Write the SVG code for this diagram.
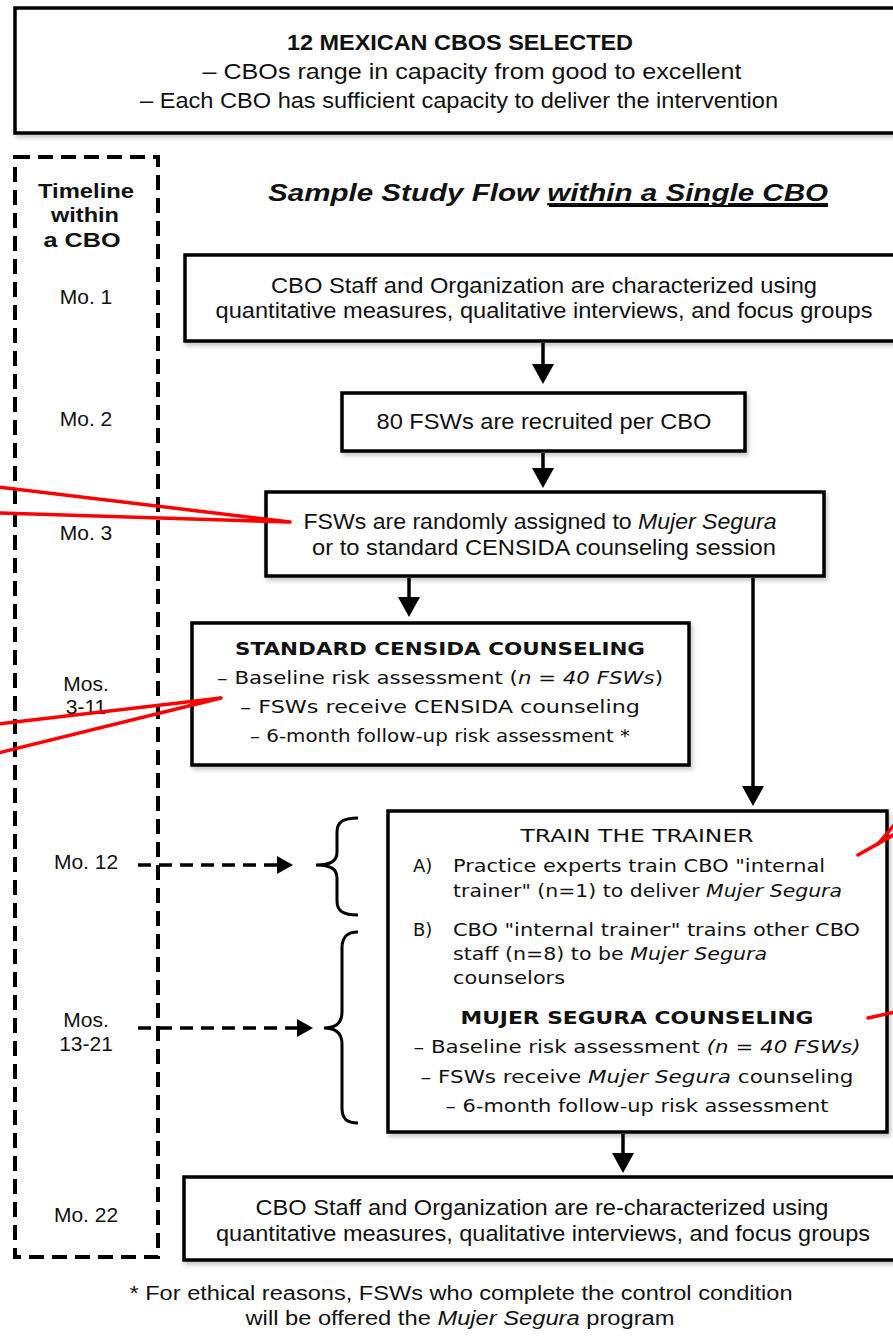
<svg xmlns="http://www.w3.org/2000/svg" width="893" height="1340" viewBox="0 0 893 1340">
<style>
.box{fill:#fff;stroke:#000;stroke-width:3.5;filter:url(#sh)}
.n{font-family:"Liberation Sans",Arial,sans-serif;fill:#111}
.w{font-family:"DejaVu Sans",Verdana,sans-serif;fill:#111}
.b{font-weight:bold}
.i{font-style:italic}
.c{text-anchor:middle}
.mo{font-family:"Liberation Sans",Arial,sans-serif;fill:#111;font-size:21px;text-anchor:middle}
.conn{stroke:#000;stroke-width:3.5;fill:none}
.dash{stroke:#000;stroke-width:3.5;fill:none;stroke-dasharray:13 8}
.brace{stroke:#000;stroke-width:3;fill:none}
.red{stroke:#ff0000;stroke-width:3.5;fill:none;stroke-linecap:round;stroke-linejoin:round}
</style>
<defs>
<filter id="sh" x="-5%" y="-5%" width="115%" height="125%">
<feDropShadow dx="2" dy="3" stdDeviation="2" flood-color="#000" flood-opacity="0.22"/>
</filter>
<marker id="ah" viewBox="0 0 20 22" refX="2" refY="11" markerWidth="20" markerHeight="22" markerUnits="userSpaceOnUse" orient="auto">
<path d="M0,0 L20,11 L0,22 z" fill="#000"/>
</marker>
<marker id="ahd" viewBox="0 0 16 18" refX="1" refY="9" markerWidth="16" markerHeight="18" markerUnits="userSpaceOnUse" orient="auto">
<path d="M0,0 L16,9 L0,18 z" fill="#000"/>
</marker>
</defs>
<rect width="893" height="1340" fill="#fff"/>

<g id="cbos">
<rect class="box" x="15" y="8" width="900" height="125"/>
<text class="n b c" x="460" y="50" font-size="22" textLength="346" lengthAdjust="spacingAndGlyphs">12 MEXICAN CBOS SELECTED</text>
<text class="n c" x="472" y="79" font-size="22" textLength="539" lengthAdjust="spacingAndGlyphs">– CBOs range in capacity from good to excellent</text>
<text class="n c" x="459" y="108" font-size="22" textLength="638" lengthAdjust="spacingAndGlyphs">– Each CBO has sufficient capacity to deliver the intervention</text>
</g>

<g id="timeline">
<rect x="15" y="157" width="143" height="1100" fill="none" stroke="#000" stroke-width="4" stroke-dasharray="15 8"/>
<text class="n b c" x="86" y="198" font-size="20" textLength="96" lengthAdjust="spacingAndGlyphs">Timeline</text>
<text class="n b c" x="85" y="222" font-size="20" textLength="68" lengthAdjust="spacingAndGlyphs">within</text>
<text class="n b c" x="82" y="247" font-size="20" textLength="77" lengthAdjust="spacingAndGlyphs">a CBO</text>
<text class="mo" x="86" y="304">Mo. 1</text>
<text class="mo" x="86" y="426">Mo. 2</text>
<text class="mo" x="86" y="540">Mo. 3</text>
<text class="mo" x="86" y="691">Mos.</text>
<text class="mo" x="86" y="714">3-11</text>
<text class="mo" x="86" y="869">Mo. 12</text>
<text class="mo" x="86" y="1027">Mos.</text>
<text class="mo" x="86" y="1051">13-21</text>
<text class="mo" x="86" y="1222">Mo. 22</text>
</g>

<g id="title">
<text class="n b i c" x="548" y="201" font-size="24" textLength="560" lengthAdjust="spacingAndGlyphs">Sample Study Flow <tspan text-decoration="underline">within a Single CBO</tspan></text>
<line x1="549" y1="206" x2="828" y2="206" stroke="#000" stroke-width="2"/>
</g>

<g id="characterize">
<rect class="box" x="185" y="255" width="720" height="86"/>
<text class="n c" x="544" y="293" font-size="22" textLength="546" lengthAdjust="spacingAndGlyphs">CBO Staff and Organization are characterized using</text>
<text class="n c" x="544" y="318" font-size="22" textLength="657" lengthAdjust="spacingAndGlyphs">quantitative measures, qualitative interviews, and focus groups</text>
</g>

<g id="recruit">
<rect class="box" x="342" y="393" width="403" height="58"/>
<text class="n c" x="544" y="429" font-size="22" textLength="335" lengthAdjust="spacingAndGlyphs">80 FSWs are recruited per CBO</text>
</g>

<g id="randomize">
<rect class="box" x="266" y="492" width="558" height="84"/>
<text class="n c" x="540" y="529" font-size="22" textLength="473" lengthAdjust="spacingAndGlyphs">FSWs are randomly assigned to <tspan class="i">Mujer Segura</tspan></text>
<text class="n c" x="544" y="555" font-size="22" textLength="464" lengthAdjust="spacingAndGlyphs">or to standard CENSIDA counseling session</text>
</g>

<g id="censida">
<rect class="box" x="192" y="623" width="497" height="142"/>
<text class="w b c" x="440" y="655" font-size="18" textLength="410" lengthAdjust="spacingAndGlyphs">STANDARD CENSIDA COUNSELING</text>
<text class="w c" x="440" y="684" font-size="18" textLength="446" lengthAdjust="spacingAndGlyphs">– Baseline risk assessment (<tspan class="i">n = 40 FSWs</tspan>)</text>
<text class="w c" x="440" y="713" font-size="18" textLength="400" lengthAdjust="spacingAndGlyphs">– FSWs receive CENSIDA counseling</text>
<text class="w c" x="440" y="742" font-size="18" textLength="380" lengthAdjust="spacingAndGlyphs">– 6-month follow-up risk assessment *</text>
</g>

<g id="train">
<rect class="box" x="388" y="811" width="499" height="321"/>
<text class="w c" x="637" y="842" font-size="18" textLength="233" lengthAdjust="spacingAndGlyphs">TRAIN THE TRAINER</text>
<text class="w" x="413" y="872" font-size="18">A)</text>
<text class="w" x="453" y="872" font-size="18" textLength="372" lengthAdjust="spacingAndGlyphs">Practice experts train CBO "internal</text>
<text class="w" x="453" y="897" font-size="18" textLength="389" lengthAdjust="spacingAndGlyphs">trainer" (n=1) to deliver <tspan class="i">Mujer Segura</tspan></text>
<text class="w" x="413" y="936" font-size="18">B)</text>
<text class="w" x="453" y="936" font-size="18" textLength="407" lengthAdjust="spacingAndGlyphs">CBO "internal trainer" trains other CBO</text>
<text class="w" x="453" y="960" font-size="18" textLength="314" lengthAdjust="spacingAndGlyphs">staff (n=8) to be <tspan class="i">Mujer Segura</tspan></text>
<text class="w" x="453" y="984" font-size="18" textLength="112" lengthAdjust="spacingAndGlyphs">counselors</text>
<text class="w b c" x="637" y="1024" font-size="18" textLength="353" lengthAdjust="spacingAndGlyphs">MUJER SEGURA COUNSELING</text>
<text class="w c" x="637" y="1053" font-size="18" textLength="447" lengthAdjust="spacingAndGlyphs">– Baseline risk assessment <tspan class="i">(n = 40 FSWs)</tspan></text>
<text class="w c" x="637" y="1083" font-size="18" textLength="433" lengthAdjust="spacingAndGlyphs">– FSWs receive <tspan class="i">Mujer Segura</tspan> counseling</text>
<text class="w c" x="637" y="1112" font-size="18" textLength="383" lengthAdjust="spacingAndGlyphs">– 6-month follow-up risk assessment</text>
</g>

<g id="recharacterize">
<rect class="box" x="184" y="1177" width="720" height="83"/>
<text class="n c" x="542" y="1215" font-size="22" textLength="573" lengthAdjust="spacingAndGlyphs">CBO Staff and Organization are re-characterized using</text>
<text class="n c" x="543" y="1241" font-size="22" textLength="654" lengthAdjust="spacingAndGlyphs">quantitative measures, qualitative interviews, and focus groups</text>
</g>

<g id="footnote">
<text class="n c" x="461" y="1300" font-size="20" textLength="663" lengthAdjust="spacingAndGlyphs">* For ethical reasons, FSWs who complete the control condition</text>
<text class="n c" x="460" y="1325" font-size="20" textLength="429" lengthAdjust="spacingAndGlyphs">will be offered the <tspan class="i">Mujer Segura</tspan> program</text>
</g>

<g id="connectors">
<line class="conn" x1="543" y1="343" x2="543" y2="366" marker-end="url(#ah)"/>
<line class="conn" x1="543" y1="453" x2="543" y2="470" marker-end="url(#ah)"/>
<line class="conn" x1="409" y1="578" x2="409" y2="599" marker-end="url(#ah)"/>
<line class="conn" x1="753" y1="578" x2="753" y2="788" marker-end="url(#ah)"/>
<line class="conn" x1="623" y1="1134" x2="623" y2="1155" marker-end="url(#ah)"/>
<line class="dash" x1="138" y1="865" x2="278" y2="865" marker-end="url(#ahd)"/>
<line class="dash" x1="138" y1="1028" x2="298" y2="1028" marker-end="url(#ahd)"/>
<path class="brace" d="M358,818 C343,818 337,822 337,832 L337,852 C337,861 331,865 316,865 C331,865 337,869 337,878 L337,901 C337,911 343,915 358,915"/>
<path class="brace" d="M358,932 C347,932 342,937 342,948 L342,1012 C342,1023 336,1028 324,1028 C336,1028 342,1033 342,1044 L342,1108 C342,1119 347,1123 358,1123"/>
</g>

<g id="annotations">
<polyline class="red" points="-2,487 290,522 -2,513"/>
<polyline class="red" points="-2,724 221,698 -2,753"/>
<line class="red" x1="858" y1="855" x2="895" y2="834"/>
<line class="red" x1="878" y1="844" x2="895" y2="824"/>
<line class="red" x1="868" y1="1018" x2="895" y2="1012"/>
</g>
</svg>
